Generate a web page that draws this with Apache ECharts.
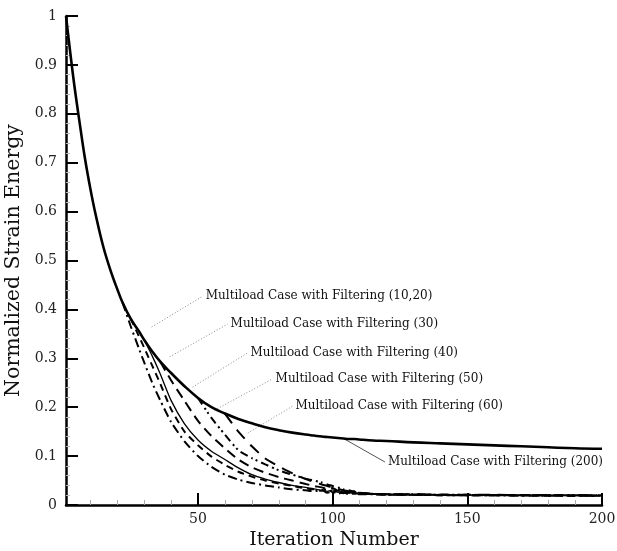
<!DOCTYPE html>
<html><head><meta charset="utf-8">
<script src="https://cdn.jsdelivr.net/npm/echarts@6/dist/echarts.min.js"></script>
<style>html,body{margin:0;padding:0;background:#fff}#c{width:617px;height:551px}</style>
</head><body><div id="c"></div>
<script>
// Iteration grid shared by all curves
const iterations = [1,2,3,4,5,6,8,10,12,15,18,20,22,25,28,30,33,36,40,45,50,55,60,65,70,75,80,85,90,93,96,98,100,102,104,106,108,110,115,120,130,140,150,160,170,180,190,200];

// Multiload case with filtering (200) - starts at iteration 1
const filt200 = [1.0,0.952,0.906,0.862,0.822,0.784,0.710,0.648,0.594,0.525,0.472,0.442,0.414,0.381,0.356,0.338,0.314,0.293,0.270,0.243,0.219,0.200,0.187,0.176,0.167,0.159,0.153,0.148,0.144,0.142,0.140,0.139,0.138,0.137,0.136,0.135,0.135,0.134,0.132,0.131,0.128,0.126,0.124,0.122,0.120,0.118,0.116,0.115];

// Branch curves: values start at the given iteration
const filt10Start = 22;
const filt10 = [0.414,0.366,0.321,0.292,0.250,0.214,0.170,0.130,0.100,0.078,0.062,0.052,0.045,0.040,0.036,0.032,0.030,0.028,0.031,0.025,0.027,0.023,0.026,0.022,0.024,0.022,0.022,0.021,0.021,0.020,0.020,0.020,0.019,0.019,0.019,0.019];
const filt20Start = 25;
const filt20 = [0.381,0.346,0.322,0.285,0.248,0.196,0.150,0.122,0.099,0.082,0.068,0.058,0.050,0.044,0.039,0.034,0.032,0.029,0.033,0.026,0.030,0.024,0.027,0.023,0.024,0.022,0.021,0.021,0.020,0.020,0.020,0.020,0.019,0.019,0.019];
const filt30Start = 30;
const filt30 = [0.338,0.305,0.268,0.214,0.166,0.133,0.110,0.093,0.076,0.062,0.053,0.046,0.040,0.036,0.033,0.030,0.028,0.031,0.026,0.029,0.024,0.026,0.023,0.022,0.022,0.021,0.021,0.020,0.020,0.020,0.020,0.019,0.019];
const filt40Start = 36;
const filt40 = [0.293,0.255,0.213,0.172,0.141,0.116,0.093,0.077,0.066,0.057,0.050,0.043,0.039,0.036,0.033,0.035,0.029,0.031,0.026,0.028,0.024,0.023,0.022,0.021,0.021,0.020,0.020,0.020,0.020,0.020,0.019];
const filt50Start = 50;
const filt50 = [0.219,0.178,0.144,0.112,0.096,0.083,0.071,0.062,0.054,0.050,0.046,0.042,0.039,0.036,0.032,0.030,0.027,0.025,0.023,0.022,0.022,0.021,0.021,0.020,0.020,0.020,0.020,0.020];
const filt60Start = 60;
const filt60 = [0.187,0.150,0.120,0.095,0.079,0.065,0.053,0.047,0.042,0.039,0.036,0.033,0.030,0.028,0.026,0.025,0.023,0.022,0.022,0.021,0.021,0.021,0.020,0.020,0.020,0.020];

// Axis ticks
const xTickValues = [50,100,150,200];
const xMinorTicks = [10,20,30,40,60,70,80,90,110,120,130,140,160,170,180,190];

// Annotations (text, leader start on curve, leader end at text)
const annotationTexts = [
  'Multiload Case with Filtering (10,20)',
  'Multiload Case with Filtering (30)',
  'Multiload Case with Filtering (40)',
  'Multiload Case with Filtering (50)',
  'Multiload Case with Filtering (60)',
  'Multiload Case with Filtering (200)'
];
const leaderFrom = [[32.8,0.364],[39.5,0.303],[48.0,0.241],[56.2,0.194],[68.5,0.147],[103.7,0.137]];
const leaderTo = [[51.8,0.427],[61.0,0.370],[68.4,0.311],[77.7,0.258],[85.1,0.202],[119.4,0.088]];

const SERIF = 'DejaVu Serif';

function pairs(start, vals) {
  const i0 = iterations.indexOf(start);
  return vals.map((v, k) => [iterations[i0 + k], v]);
}

const curves = [
  {name: 'Filtering (200)', data: pairs(1, filt200), width: 2.6, type: 'solid', smooth: 0.4},
  {name: 'Filtering (10)', data: pairs(filt10Start, filt10), width: 2, type: [9,4,2,4], smooth: 0.2},
  {name: 'Filtering (20)', data: pairs(filt20Start, filt20), width: 2, type: [7,5], smooth: 0.2},
  {name: 'Filtering (30)', data: pairs(filt30Start, filt30), width: 1.3, type: 'solid', smooth: 0.2},
  {name: 'Filtering (40)', data: pairs(filt40Start, filt40), width: 2, type: [10,6], smooth: 0.2},
  {name: 'Filtering (50)', data: pairs(filt50Start, filt50), width: 2, type: [8,4,2,3,2,4], smooth: 0.2},
  {name: 'Filtering (60)', data: pairs(filt60Start, filt60), width: 2, type: [12,8], smooth: 0.2}
];

const series = curves.map(c => ({
  name: c.name, type: 'line', xAxisIndex: 0, yAxisIndex: 0,
  data: c.data, symbol: 'none', smooth: c.smooth, silent: true,
  lineStyle: {color: '#000', width: c.width, type: c.type}, z: 3
}));

annotationTexts.forEach((t, i) => {
  series.push({
    type: 'line', xAxisIndex: 0, yAxisIndex: 0, symbol: 'none', silent: true,
    data: [leaderFrom[i], leaderTo[i]],
    lineStyle: i === 5 ? {color: '#555', width: 1, type: 'solid'} : {color: '#888', width: 1, type: [1,2]},
    endLabel: {show: true, formatter: t, distance: 3, fontFamily: SERIF, fontSize: 12, color: '#111'},
    z: 2
  });
});

const chart = echarts.init(document.getElementById('c'), null, {renderer: 'canvas'});
chart.setOption({
  animation: false,
  backgroundColor: '#fff',
  grid: {left: 66, right: 15, top: 16, bottom: 46, containLabel: false, outerBoundsMode: 'none'},
  xAxis: [{
    type: 'value', min: 1, max: 200,
    name: 'Iteration Number', nameLocation: 'middle', nameGap: 22,
    nameTextStyle: {fontFamily: SERIF, fontSize: 19, color: '#111'},
    axisLine: {lineStyle: {color: '#000', width: 2.5}},
    axisTick: {show: true, inside: true, length: 12, lineStyle: {color: '#000', width: 2}, customValues: xTickValues},
    axisLabel: {customValues: xTickValues, margin: 7, fontFamily: SERIF, fontSize: 14, color: '#222'},
    splitLine: {show: false}
  }, {
    type: 'value', min: 1, max: 200, position: 'bottom',
    axisLine: {show: false},
    axisTick: {show: true, inside: true, length: 5, lineStyle: {color: '#aaa', width: 1}, customValues: xMinorTicks},
    axisLabel: {show: false}, splitLine: {show: false}
  }],
  yAxis: [{
    type: 'value', min: 0, max: 1, interval: 0.1,
    name: 'Normalized Strain Energy', nameLocation: 'middle', nameGap: 35,
    nameTextStyle: {fontFamily: SERIF, fontSize: 20.5, color: '#111'},
    axisLine: {show: true, lineStyle: {color: '#000', width: 2.5}},
    axisTick: {show: true, inside: true, length: 12, lineStyle: {color: '#000', width: 2}},
    minorTick: {show: true, splitNumber: 5, length: 4, lineStyle: {color: '#bbb', width: 1}},
    axisLabel: {margin: 9, fontFamily: SERIF, fontSize: 14, color: '#222',
      formatter: v => (v === 0 ? '0' : (Math.abs(v - 1) < 1e-9 ? '1' : v.toFixed(1)))},
    splitLine: {show: false}
  }],
  series: series
});
</script></body></html>
